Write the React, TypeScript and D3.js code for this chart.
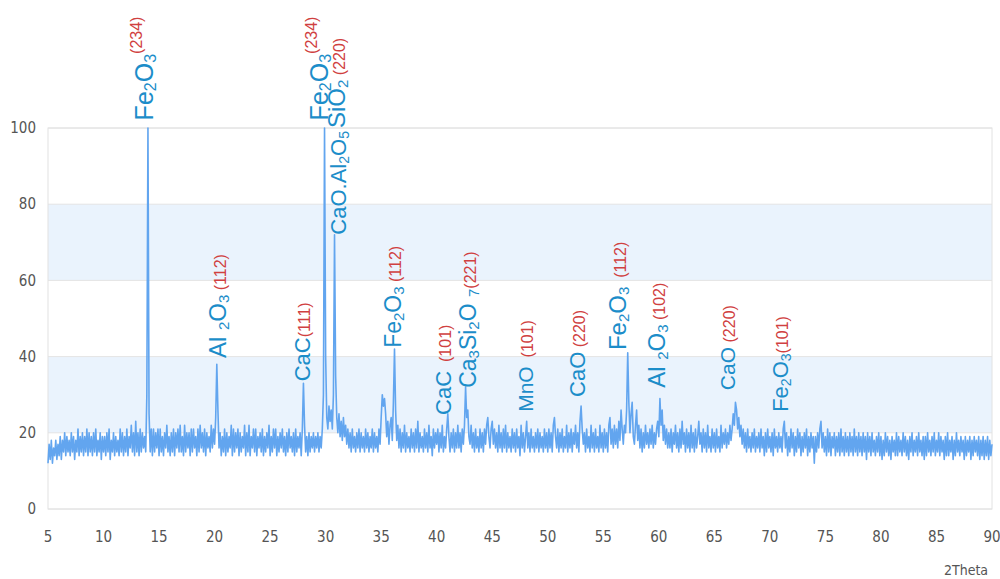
import React from "react";
import * as d3 from "d3";

// XRD pattern, 2Theta from 5 to 90 read every 0.1 degree (one row = one degree)
const thetaStart = 5;
const thetaStep = 0.1;
const intensity = [
  12, 17, 13, 18, 12, 16, 14, 18, 13, 17,
  14, 19, 13, 18, 15, 20, 14, 19, 15, 18,
  14, 20, 15, 19, 13, 18, 15, 21, 14, 19,
  15, 20, 14, 19, 15, 21, 14, 20, 15, 19,
  14, 20, 15, 21, 14, 18, 15, 20, 13, 19,
  15, 19, 14, 20, 15, 21, 13, 18, 15, 20,
  14, 19, 15, 18, 14, 21, 15, 20, 14, 19,
  15, 21, 14, 19, 16, 22, 15, 20, 14, 23,
  15, 20, 14, 21, 15, 20, 16, 19, 15, 30,
  100, 25, 15, 21, 14, 21, 15, 20, 16, 21,
  14, 21, 15, 19, 14, 20, 16, 22, 15, 19,
  14, 20, 15, 21, 14, 20, 16, 21, 15, 22,
  15, 19, 14, 22, 15, 20, 16, 20, 14, 21,
  15, 21, 16, 19, 14, 21, 15, 22, 16, 20,
  15, 21, 14, 20, 16, 19, 15, 22, 16, 21,
  17, 24, 38, 26, 16, 20, 14, 19, 15, 21,
  14, 20, 15, 19, 16, 22, 14, 21, 15, 20,
  16, 21, 14, 20, 15, 19, 16, 22, 14, 20,
  15, 22, 14, 19, 16, 21, 15, 21, 14, 19,
  16, 20, 15, 21, 14, 19, 15, 20, 16, 22,
  14, 19, 15, 21, 16, 21, 14, 19, 15, 20,
  16, 21, 15, 19, 14, 20, 15, 21, 16, 19,
  15, 20, 14, 21, 15, 19, 16, 20, 14, 21,
  33, 22, 15, 19, 14, 20, 15, 19, 16, 20,
  15, 19, 16, 20, 15, 19, 16, 21, 30, 100,
  40, 24, 21, 27, 23, 26, 21, 30, 72, 35,
  24, 20, 25, 19, 23, 18, 24, 19, 22, 17,
  21, 16, 20, 15, 21, 16, 19, 15, 20, 16,
  21, 15, 20, 16, 19, 15, 21, 16, 20, 15,
  19, 16, 21, 15, 20, 16, 19, 15, 21, 17,
  24, 30, 27, 29, 25, 19, 23, 17, 22, 24,
  18, 28, 42, 26, 18, 22, 16, 21, 15, 20,
  16, 22, 15, 20, 16, 19, 15, 21, 16, 20,
  15, 21, 16, 23, 15, 20, 16, 19, 15, 21,
  16, 20, 15, 22, 16, 19, 14, 21, 16, 20,
  17, 21, 15, 20, 16, 22, 15, 19, 16, 21,
  25, 19, 15, 20, 16, 21, 15, 20, 16, 22,
  16, 20, 15, 21, 17, 22, 32, 24, 26, 19,
  17, 22, 16, 20, 15, 21, 16, 19, 15, 21,
  16, 20, 15, 21, 17, 22, 24, 19, 16, 21,
  23, 17, 21, 16, 20, 15, 22, 16, 20, 15,
  21, 16, 22, 15, 20, 16, 19, 15, 21, 16,
  20, 15, 21, 16, 19, 14, 22, 16, 20, 15,
  19, 23, 16, 20, 15, 21, 16, 19, 15, 20,
  16, 21, 15, 20, 16, 19, 15, 21, 16, 20,
  15, 21, 16, 20, 15, 22, 24, 19, 16, 21,
  15, 20, 16, 21, 15, 19, 16, 22, 15, 20,
  16, 21, 15, 20, 17, 22, 16, 20, 15, 23,
  27, 21, 17, 20, 15, 21, 16, 19, 15, 22,
  16, 20, 15, 21, 16, 19, 15, 22, 16, 20,
  15, 21, 16, 20, 15, 22, 24, 17, 21, 16,
  22, 17, 21, 16, 23, 18, 26, 21, 17, 22,
  20, 26, 41, 28, 20, 25, 28, 19, 17, 22,
  26, 18, 22, 16, 21, 15, 20, 16, 22, 17,
  20, 16, 21, 17, 22, 16, 20, 17, 21, 23,
  19, 29, 22, 26, 18, 22, 17, 21, 16, 20,
  16, 21, 15, 20, 17, 22, 16, 20, 15, 21,
  16, 23, 17, 20, 15, 21, 16, 20, 15, 22,
  16, 20, 15, 21, 16, 19, 23, 17, 20, 15,
  21, 16, 20, 15, 22, 16, 19, 15, 21, 16,
  20, 15, 21, 16, 19, 15, 22, 16, 20, 17,
  21, 16, 20, 17, 22, 18, 21, 25, 22, 28,
  26, 21, 24, 19, 22, 17, 21, 16, 20, 15,
  21, 16, 19, 15, 20, 16, 21, 15, 19, 16,
  20, 15, 21, 16, 19, 14, 20, 15, 21, 16,
  19, 15, 20, 14, 21, 16, 19, 15, 20, 16,
  19, 15, 21, 23, 16, 20, 14, 19, 15, 21,
  16, 20, 14, 19, 15, 21, 16, 20, 14, 19,
  15, 20, 16, 21, 14, 19, 15, 20, 16, 19,
  12, 19, 15, 20, 16, 21, 23, 16, 20, 15,
  19, 14, 21, 15, 20, 14, 19, 16, 20, 14,
  19, 15, 20, 14, 21, 15, 19, 14, 20, 15,
  19, 14, 20, 15, 19, 14, 21, 15, 19, 14,
  20, 15, 19, 14, 20, 15, 19, 13, 20, 15,
  19, 14, 20, 15, 18, 14, 19, 15, 20, 14,
  19, 13, 18, 14, 20, 15, 19, 14, 18, 13,
  19, 15, 18, 14, 20, 14, 19, 15, 18, 14,
  20, 15, 19, 14, 18, 13, 19, 15, 20, 14,
  18, 15, 19, 14, 20, 15, 18, 14, 19, 13,
  19, 14, 20, 15, 18, 14, 19, 15, 20, 14,
  18, 15, 20, 14, 19, 15, 18, 13, 19, 14,
  20, 14, 18, 15, 19, 13, 18, 14, 20, 15,
  18, 14, 19, 15, 18, 13, 19, 14, 18, 15,
  19, 13, 18, 14, 19, 15, 18, 14, 19, 13,
  18, 14, 19, 13, 18, 14, 19, 13, 18, 14,
  17,
];

const xTicks = [5, 10, 15, 20, 25, 30, 35, 40, 45, 50, 55, 60, 65, 70, 75, 80, 85, 90];
const yTicks = [0, 20, 40, 60, 80, 100];
const bands = [[60, 80], [20, 40]];

// peak annotations: where the label starts (2Theta, intensity) and its pieces
// n = formula text, b = subscript, r = red index, rp = red index raised
const peakLabelX = [13.73, 29.49, 31.0, 31.1, 20.3, 27.9, 36.06, 40.57, 42.82, 47.95, 52.63, 56.32, 59.84, 66.14, 70.91];
const peakLabelY = [102, 102, 100, 72, 39.6, 33.5, 42.3, 24.7, 31.8, 25.5, 29.4, 41.7, 31.8, 31.2, 25.5];
const peakLabelParts: [string, string][][] = [
  [["Fe", "n"], ["2", "b"], ["O", "n"], ["3", "b"], ["(234)", "rp"]],
  [["Fe", "n"], ["2", "b"], ["O", "n"], ["3", "b"], ["(234)", "rp"]],
  [["SiO", "n"], ["2", "b"], [" (220)", "r"]],
  [["CaO.Al", "n"], ["2", "b"], ["O", "n"], ["5", "b"]],
  [["Al ", "n"], ["2", "b"], ["O", "n"], ["3", "b"], [" (112)", "r"]],
  [["CaC", "n"], ["(111)", "r"]],
  [["Fe", "n"], ["2", "b"], ["O", "n"], ["3", "b"], [" (112)", "r"]],
  [["CaC", "n"], ["  (101)", "r"]],
  [["Ca", "n"], ["3", "b"], ["Si", "n"], ["2", "b"], ["O ", "n"], ["7", "b"], ["(221)", "r"]],
  [["MnO", "n"], ["  (101)", "r"]],
  [["CaO", "n"], [" (220)", "r"]],
  [["Fe", "n"], ["2", "b"], ["O", "n"], ["3", "b"], ["  (112)", "r"]],
  [["Al ", "n"], ["2", "b"], ["O", "n"], ["3", "b"], [" (102)", "r"]],
  [["CaO", "n"], [" (220)", "r"]],
  [["Fe", "n"], ["2", "b"], ["O", "n"], ["3", "b"], ["(101)", "r"]],
];
const labelFont = [25, 25, 24, 22, 24, 22, 23, 22, 23, 21, 22, 24, 24, 21, 22];

const W = 1000;
const H = 579;
const left = 48, right = 992, top = 128, bottom = 509;

const blue = "#1c8dc9";
const red = "#d04040";
const tickFont = "'DejaVu Sans Condensed', 'DejaVu Sans', sans-serif";

export default function App() {
  const x = d3.scaleLinear().domain([5, 90]).range([left, right]);
  const y = d3.scaleLinear().domain([0, 100]).range([bottom, top]);

  const line = d3
    .line<number>()
    .x((_, i) => x(thetaStart + i * thetaStep))
    .y((d) => y(d));

  // each tspan shifts relative to the previous one, so undo the last shift
  const renderParts = (parts: [string, string][], size: number) => {
    let shift = 0;
    return parts.map(([t, k], j) => {
      const want = k === "b" ? 3 : k === "rp" ? -11 : 0;
      const dy = want - shift;
      shift = want;
      const isRed = k === "r" || k === "rp";
      const fs = k === "n" ? size : isRed ? 16 : Math.round(size * 0.64);
      return (
        <tspan key={j} dy={dy} fontSize={fs} fill={isRed ? red : blue} style={{ whiteSpace: "pre" }}>
          {t}
        </tspan>
      );
    });
  };

  return (
    <svg width={W} height={H} style={{ position: "absolute", left: 0, top: 0, background: "#fff" }}>
      {bands.map(([a, b], i) => (
        <rect key={i} x={left} width={right - left} y={y(b)} height={y(a) - y(b)} fill="#eaf3fd" />
      ))}
      {yTicks.map((t) => (
        <line key={t} x1={left} x2={right} y1={y(t)} y2={y(t)} stroke="#e4e4e4" strokeWidth={1} />
      ))}
      <rect x={left} y={top} width={right - left} height={bottom - top} fill="none" stroke="#e2e2e2" />

      <path d={line(intensity) ?? ""} fill="none" stroke="#62a5ef" strokeWidth={1.6} strokeLinejoin="round" />

      {yTicks.map((t) => (
        <text key={t} x={36} y={y(t)} dy="0.35em" textAnchor="end" fontSize={15} fill="#555" fontFamily={tickFont}>
          {t}
        </text>
      ))}
      {xTicks.map((t) => (
        <text key={t} x={x(t)} y={542} textAnchor="middle" fontSize={15} fill="#555" fontFamily={tickFont}>
          {t}
        </text>
      ))}
      <text x={966} y={575} textAnchor="middle" fontSize={14} fill="#555" fontFamily={tickFont}>
        2Theta
      </text>

      {peakLabelParts.map((parts, i) => (
        <text
          key={i}
          transform={`translate(${x(peakLabelX[i]) + 8},${y(peakLabelY[i])}) rotate(-90)`}
          fontFamily="'Liberation Sans', Arial, sans-serif"
        >
          {renderParts(parts, labelFont[i])}
        </text>
      ))}
    </svg>
  );
}
